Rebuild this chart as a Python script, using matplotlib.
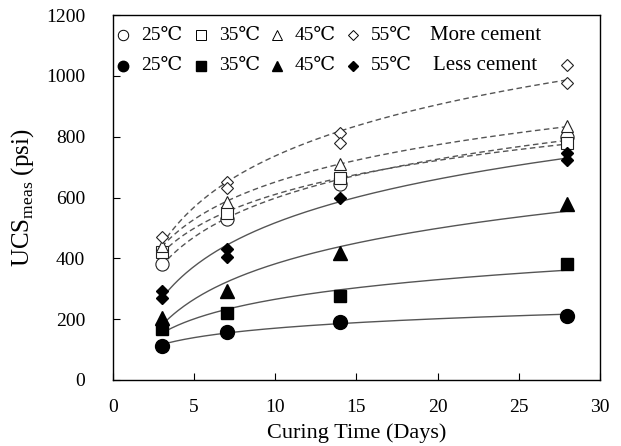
import numpy as np
import matplotlib
matplotlib.use('Agg')
import matplotlib.pyplot as plt

plt.rcParams['font.family'] = ['Liberation Serif', 'DejaVu Serif']
plt.rcParams['mathtext.fontset'] = 'custom'
plt.rcParams['mathtext.rm'] = 'Liberation Serif'

# curing time (days) and measured UCS (psi), replicates listed per day
days = [3, 7, 14, 28]
temps = ['25℃', '35℃', '45℃', '55℃']
markers = ['o', 's', '^', 'D']

more_cement = [
    [[382], [530], [645], [800]],
    [[420], [548], [665], [778]],
    [[440], [585], [710], [835]],
    [[470], [650, 633], [814, 778], [1035, 978]],
]
less_cement = [
    [[112], [159], [191], [211]],
    [[168], [219], [277], [380]],
    [[204], [293], [419], [580]],
    [[293, 270], [432, 405], [600], [745, 725]],
]

def flatten(series):
    t, v = [], []
    for d, reps in zip(days, series):
        for r in reps:
            t.append(d)
            v.append(r)
    return np.array(t, float), np.array(v, float)

def log_fit(t, v):
    # UCS = a + b ln(t)
    b, a = np.polyfit(np.log(t), v, 1)
    tt = np.linspace(3, 28, 200)
    return tt, a + b * np.log(tt)

fig = plt.figure(figsize=(6.21, 4.46), dpi=100)
ax = fig.add_axes([0.182, 0.148, 0.784, 0.818])

msize = {'o': 10, 's': 9, '^': 9.5, 'D': 6.5}
for i in range(4):
    mk = markers[i]
    # more cement: open markers, dashed fit
    t, v = flatten(more_cement[i])
    tt, fit = log_fit(t, v)
    ax.plot(tt, fit, color='#555555', lw=1.0, ls=(0, (4, 2.5)), zorder=1)
    ax.plot(t, v, ls='none', marker=mk, ms=msize[mk] * 0.95, mfc='white',
            mec='#222222', mew=0.8, zorder=2)
    # less cement: filled markers, solid fit
    t, v = flatten(less_cement[i])
    tt, fit = log_fit(t, v)
    ax.plot(tt, fit, color='#555555', lw=1.0, zorder=1)
    ax.plot(t, v, ls='none', marker=mk, ms=msize[mk], mfc='black',
            mec='black', zorder=3)

ax.set_xlim(0, 30)
ax.set_ylim(0, 1200)
ax.set_xticks(np.arange(0, 31, 5))
ax.set_yticks(np.arange(0, 1201, 200))
ax.tick_params(direction='in', length=5, labelsize=14, width=0.8)
ax.tick_params(axis='y', pad=20)
ax.tick_params(axis='x', pad=14)
for s in ax.spines.values():
    s.set_linewidth(1.0)
ax.set_xlabel('Curing Time (Days)', fontsize=16, labelpad=5)
ax.set_ylabel(r'UCS$_{\mathrm{meas}}$ (psi)', fontsize=18, labelpad=7)

# legend drawn by hand: open markers row, filled markers row
col_x = [0.021, 0.181, 0.337, 0.493]
row_y = [0.945, 0.862]
for i in range(4):
    mk = markers[i]
    ax.plot(col_x[i], row_y[0], marker=mk, ms=msize[mk] * 0.75, mfc='white',
            mec='black', mew=0.7, transform=ax.transAxes, clip_on=False)
    ax.plot(col_x[i], row_y[1], marker=mk, ms=msize[mk] * 0.75, mfc='black',
            mec='black', transform=ax.transAxes, clip_on=False)
    for r in range(2):
        ax.text(col_x[i] + 0.036, row_y[r], temps[i], fontsize=14,
                transform=ax.transAxes, va='center', ha='left')
ax.text(0.651, row_y[0], 'More cement', fontsize=15,
        transform=ax.transAxes, va='center', ha='left')
ax.text(0.657, row_y[1], 'Less cement', fontsize=15,
        transform=ax.transAxes, va='center', ha='left')

fig.savefig('out.png', dpi=100)
